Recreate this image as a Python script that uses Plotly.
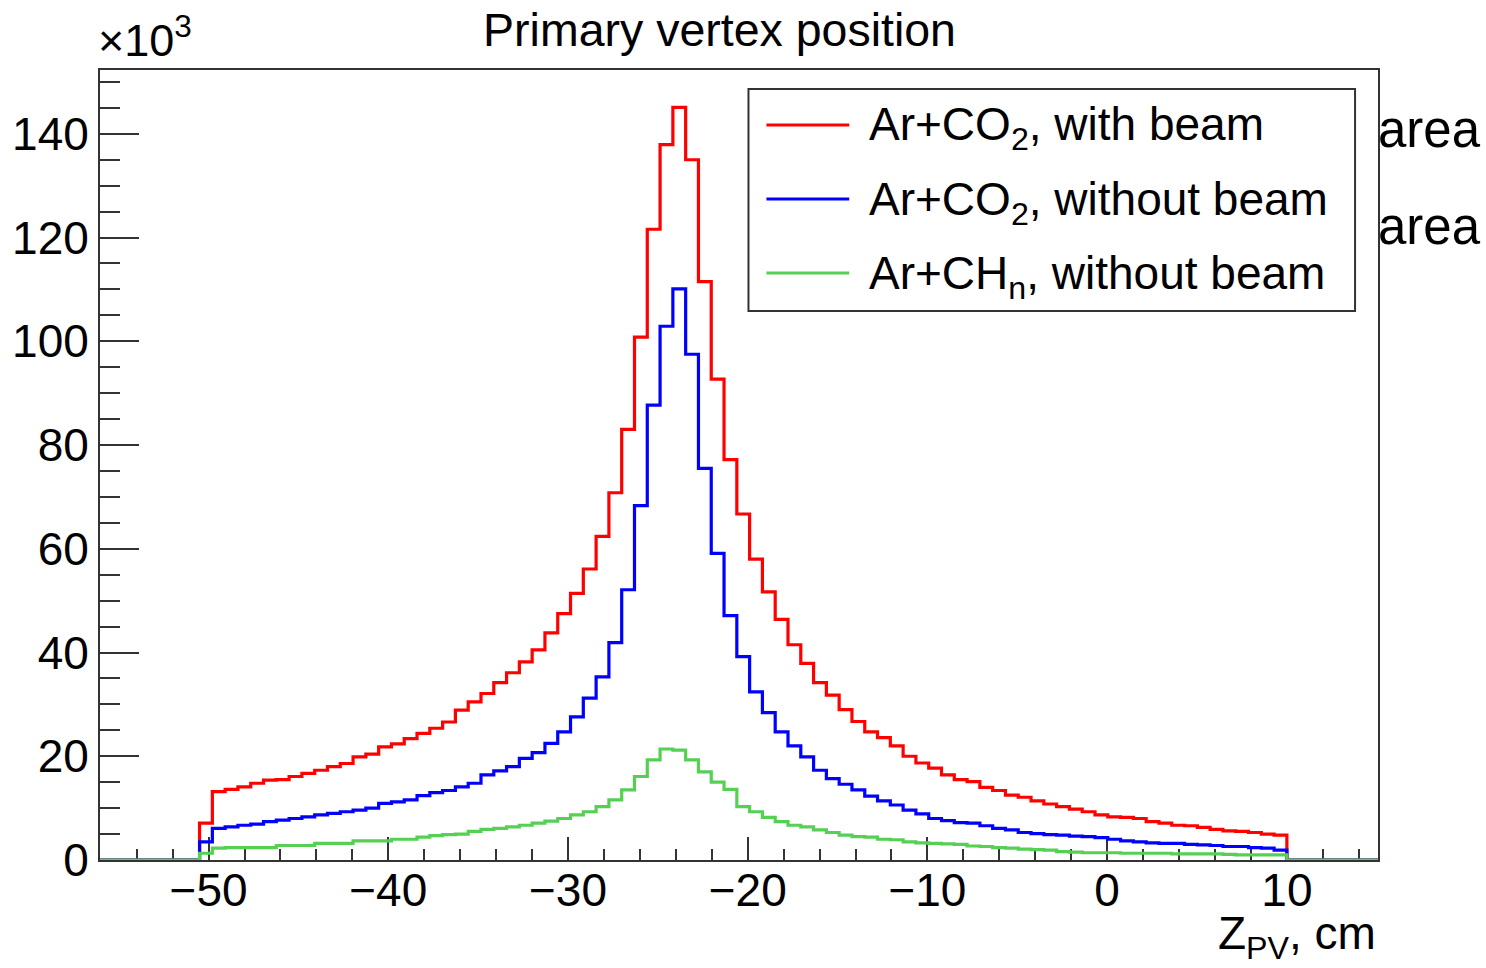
import plotly.graph_objects as go

# ---------------- data (counts in units of 10^3) ----------------
Z_MIN = -50.5      # lower edge of first filled bin, cm
Z_MAX = 10.0       # upper edge of last filled bin, cm
N_BINS = 85

series_names = [
    "Ar+CO<sub>2</sub>, with beam",
    "Ar+CO<sub>2</sub>, without beam",
    "Ar+CH<sub>n</sub>, without beam",
]
series_colors = ["#ff0000", "#0000ff", "#55d055"]

red_with_beam = [
    7.1, 13.2, 13.6, 14.1, 14.8, 15.4, 15.5, 16.1, 16.7, 17.3,
    18.0, 18.6, 19.9, 20.4, 21.8, 22.4, 23.4, 24.4, 25.4, 26.6,
    28.9, 30.5, 32.1, 34.2, 36.1, 38.2, 40.5, 43.8, 47.5, 51.4,
    56.1, 62.4, 70.8, 83.0, 100.8, 121.6, 137.9, 145.1, 135.0, 111.5,
    92.7, 77.2, 66.7, 58.0, 51.7, 46.4, 41.5, 37.9, 34.2, 31.8,
    29.0, 26.7, 24.7, 23.6, 22.0, 20.0, 18.7, 17.7, 16.4, 15.5,
    15.1, 14.0, 13.4, 12.5, 12.1, 11.4, 10.8, 10.3, 9.8, 9.3,
    8.7, 8.3, 8.2, 8.0, 7.4, 7.1, 6.7, 6.6, 6.3, 5.9,
    5.6, 5.5, 5.3, 5.0, 4.8,
]
blue_without_beam = [
    3.5, 6.1, 6.4, 6.7, 6.9, 7.4, 7.7, 8.0, 8.3, 8.7,
    9.0, 9.3, 9.6, 10.0, 10.9, 11.2, 11.6, 12.4, 13.0, 13.4,
    14.1, 14.8, 16.4, 17.2, 18.0, 19.6, 20.7, 22.5, 24.7, 27.6,
    31.2, 35.3, 41.9, 52.1, 68.3, 87.7, 102.9, 110.1, 97.5, 75.5,
    59.1, 47.1, 39.2, 32.4, 28.4, 24.7, 22.0, 19.9, 17.3, 15.7,
    14.6, 13.5, 12.3, 11.4, 10.6, 9.6, 8.9, 8.0, 7.6, 7.2,
    7.1, 6.6, 6.1, 5.8, 5.3, 5.1, 4.9, 4.8, 4.6, 4.5,
    4.3, 4.0, 3.7, 3.5, 3.3, 3.2, 3.2, 3.0, 2.9, 2.8,
    2.6, 2.6, 2.4, 2.3, 1.9,
]
green_ch_without_beam = [
    1.3, 2.3, 2.4, 2.4, 2.4, 2.4, 2.8, 2.8, 2.8, 3.2,
    3.2, 3.2, 3.7, 3.7, 3.7, 4.0, 4.0, 4.4, 4.7, 4.9,
    5.0, 5.5, 5.9, 6.1, 6.4, 6.7, 7.1, 7.5, 8.0, 8.7,
    9.3, 10.3, 11.6, 13.5, 16.1, 19.3, 21.4, 21.2, 19.3, 17.0,
    15.0, 13.6, 10.3, 9.3, 8.2, 7.4, 6.7, 6.4, 5.8, 5.3,
    4.8, 4.5, 4.4, 4.0, 3.9, 3.5, 3.3, 3.2, 3.1, 3.0,
    2.7, 2.6, 2.4, 2.3, 2.1, 2.0, 1.9, 1.6, 1.5, 1.4,
    1.4, 1.4, 1.3, 1.3, 1.3, 1.3, 1.2, 1.2, 1.2, 1.2,
    1.1, 1.0, 1.0, 1.0, 1.0,
]
series_values = [red_with_beam, blue_without_beam, green_ch_without_beam]

X_RANGE = [-56.04, 15.07]
Y_RANGE = [0, 152.3]
x_tick_values = [-50, -40, -30, -20, -10, 0, 10]
y_tick_values = [0, 20, 40, 60, 80, 100, 120, 140]

# ---------------- layout geometry (pixels) ----------------
W, H = 1486, 968
L, R, T, B = 97, 1378, 70, 860
FONT = "Liberation Sans, Arial, Helvetica, sans-serif"


def px(x):
    return (x - L) / (R - L)


def py(y):
    return (B - y) / (B - T)


bin_w = (Z_MAX - Z_MIN) / N_BINS
edges = [Z_MIN + i * bin_w for i in range(N_BINS + 1)]

fig = go.Figure()
for name, color, vals in zip(series_names, series_colors, series_values):
    assert len(vals) == N_BINS
    xs = [X_RANGE[0]] + edges + [X_RANGE[1]]
    ys = [0] + list(vals) + [0, 0]
    fig.add_trace(go.Scatter(
        x=xs, y=ys, mode="lines", name=name,
        line=dict(color=color, width=3.2, shape="hv"),
        showlegend=False, hoverinfo="skip",
    ))

axis_common = dict(
    showgrid=False, zeroline=False, showline=True, mirror=True,
    linecolor="#333333", linewidth=2, ticks="inside", tickwidth=2,
    tickcolor="#333333", tickfont=dict(family=FONT, size=46, color="black"),
    layer="below traces",
)
fig.update_xaxes(
    range=X_RANGE, tickvals=x_tick_values, ticklen=23, ticklabelstandoff=-11,
    minor=dict(ticks="inside", dtick=2, tick0=0, ticklen=11, tickwidth=2, tickcolor="#333333"),
    **axis_common,
)
fig.update_yaxes(
    range=Y_RANGE, tickvals=y_tick_values, ticklen=39,
    minor=dict(ticks="inside", dtick=5, tick0=0, ticklen=20, tickwidth=2, tickcolor="#333333"),
    **axis_common,
)

shapes = []
annotations = []
# legend box
shapes.append(dict(type="rect", xref="paper", yref="paper",
                   x0=px(747), x1=px(1355), y0=py(311), y1=py(89),
                   line=dict(color="#333333", width=2), fillcolor="white", layer="above"))
legend_rows = [125, 199, 273]
for name, color, yy in zip(series_names, series_colors, legend_rows):
    shapes.append(dict(type="line", xref="paper", yref="paper",
                       x0=px(765), x1=px(848), y0=py(yy), y1=py(yy),
                       line=dict(color=color, width=3.2), layer="above"))
    annotations.append(dict(text=name, xref="paper", yref="paper",
                            x=px(866), y=py(yy + 3), xanchor="left", yanchor="middle",
                            showarrow=False, font=dict(family=FONT, size=46, color="black")))

# exponent label
annotations.append(dict(text="×10<sup>3</sup>", xref="paper", yref="paper",
                        x=px(93), y=py(68), xanchor="left", yanchor="bottom",
                        showarrow=False, font=dict(family=FONT, size=45, color="black")))
# x axis title
annotations.append(dict(text="Z<sub>PV</sub>, cm", xref="paper", yref="paper",
                        x=1.0, y=py(968), xanchor="right", yanchor="bottom",
                        showarrow=False, font=dict(family=FONT, size=46, color="black")))
# stray "area" labels at the right border
for yy in [130, 226]:
    annotations.append(dict(text="area", xref="paper", yref="paper",
                            x=px(1376), y=py(yy), xanchor="left", yanchor="middle",
                            showarrow=False, font=dict(family=FONT, size=51, color="black")))

fig.update_layout(
    width=W, height=H,
    margin=dict(l=L, r=W - R, t=T, b=H - B),
    paper_bgcolor="white", plot_bgcolor="white",
    title=dict(text="Primary vertex position", x=px(718), xref="paper", xanchor="center",
               y=1 - 30 / H, yref="container", yanchor="middle",
               font=dict(family=FONT, size=46.5, color="black")),
    shapes=shapes, annotations=annotations, showlegend=False,
)

fig.write_html("out.html")
